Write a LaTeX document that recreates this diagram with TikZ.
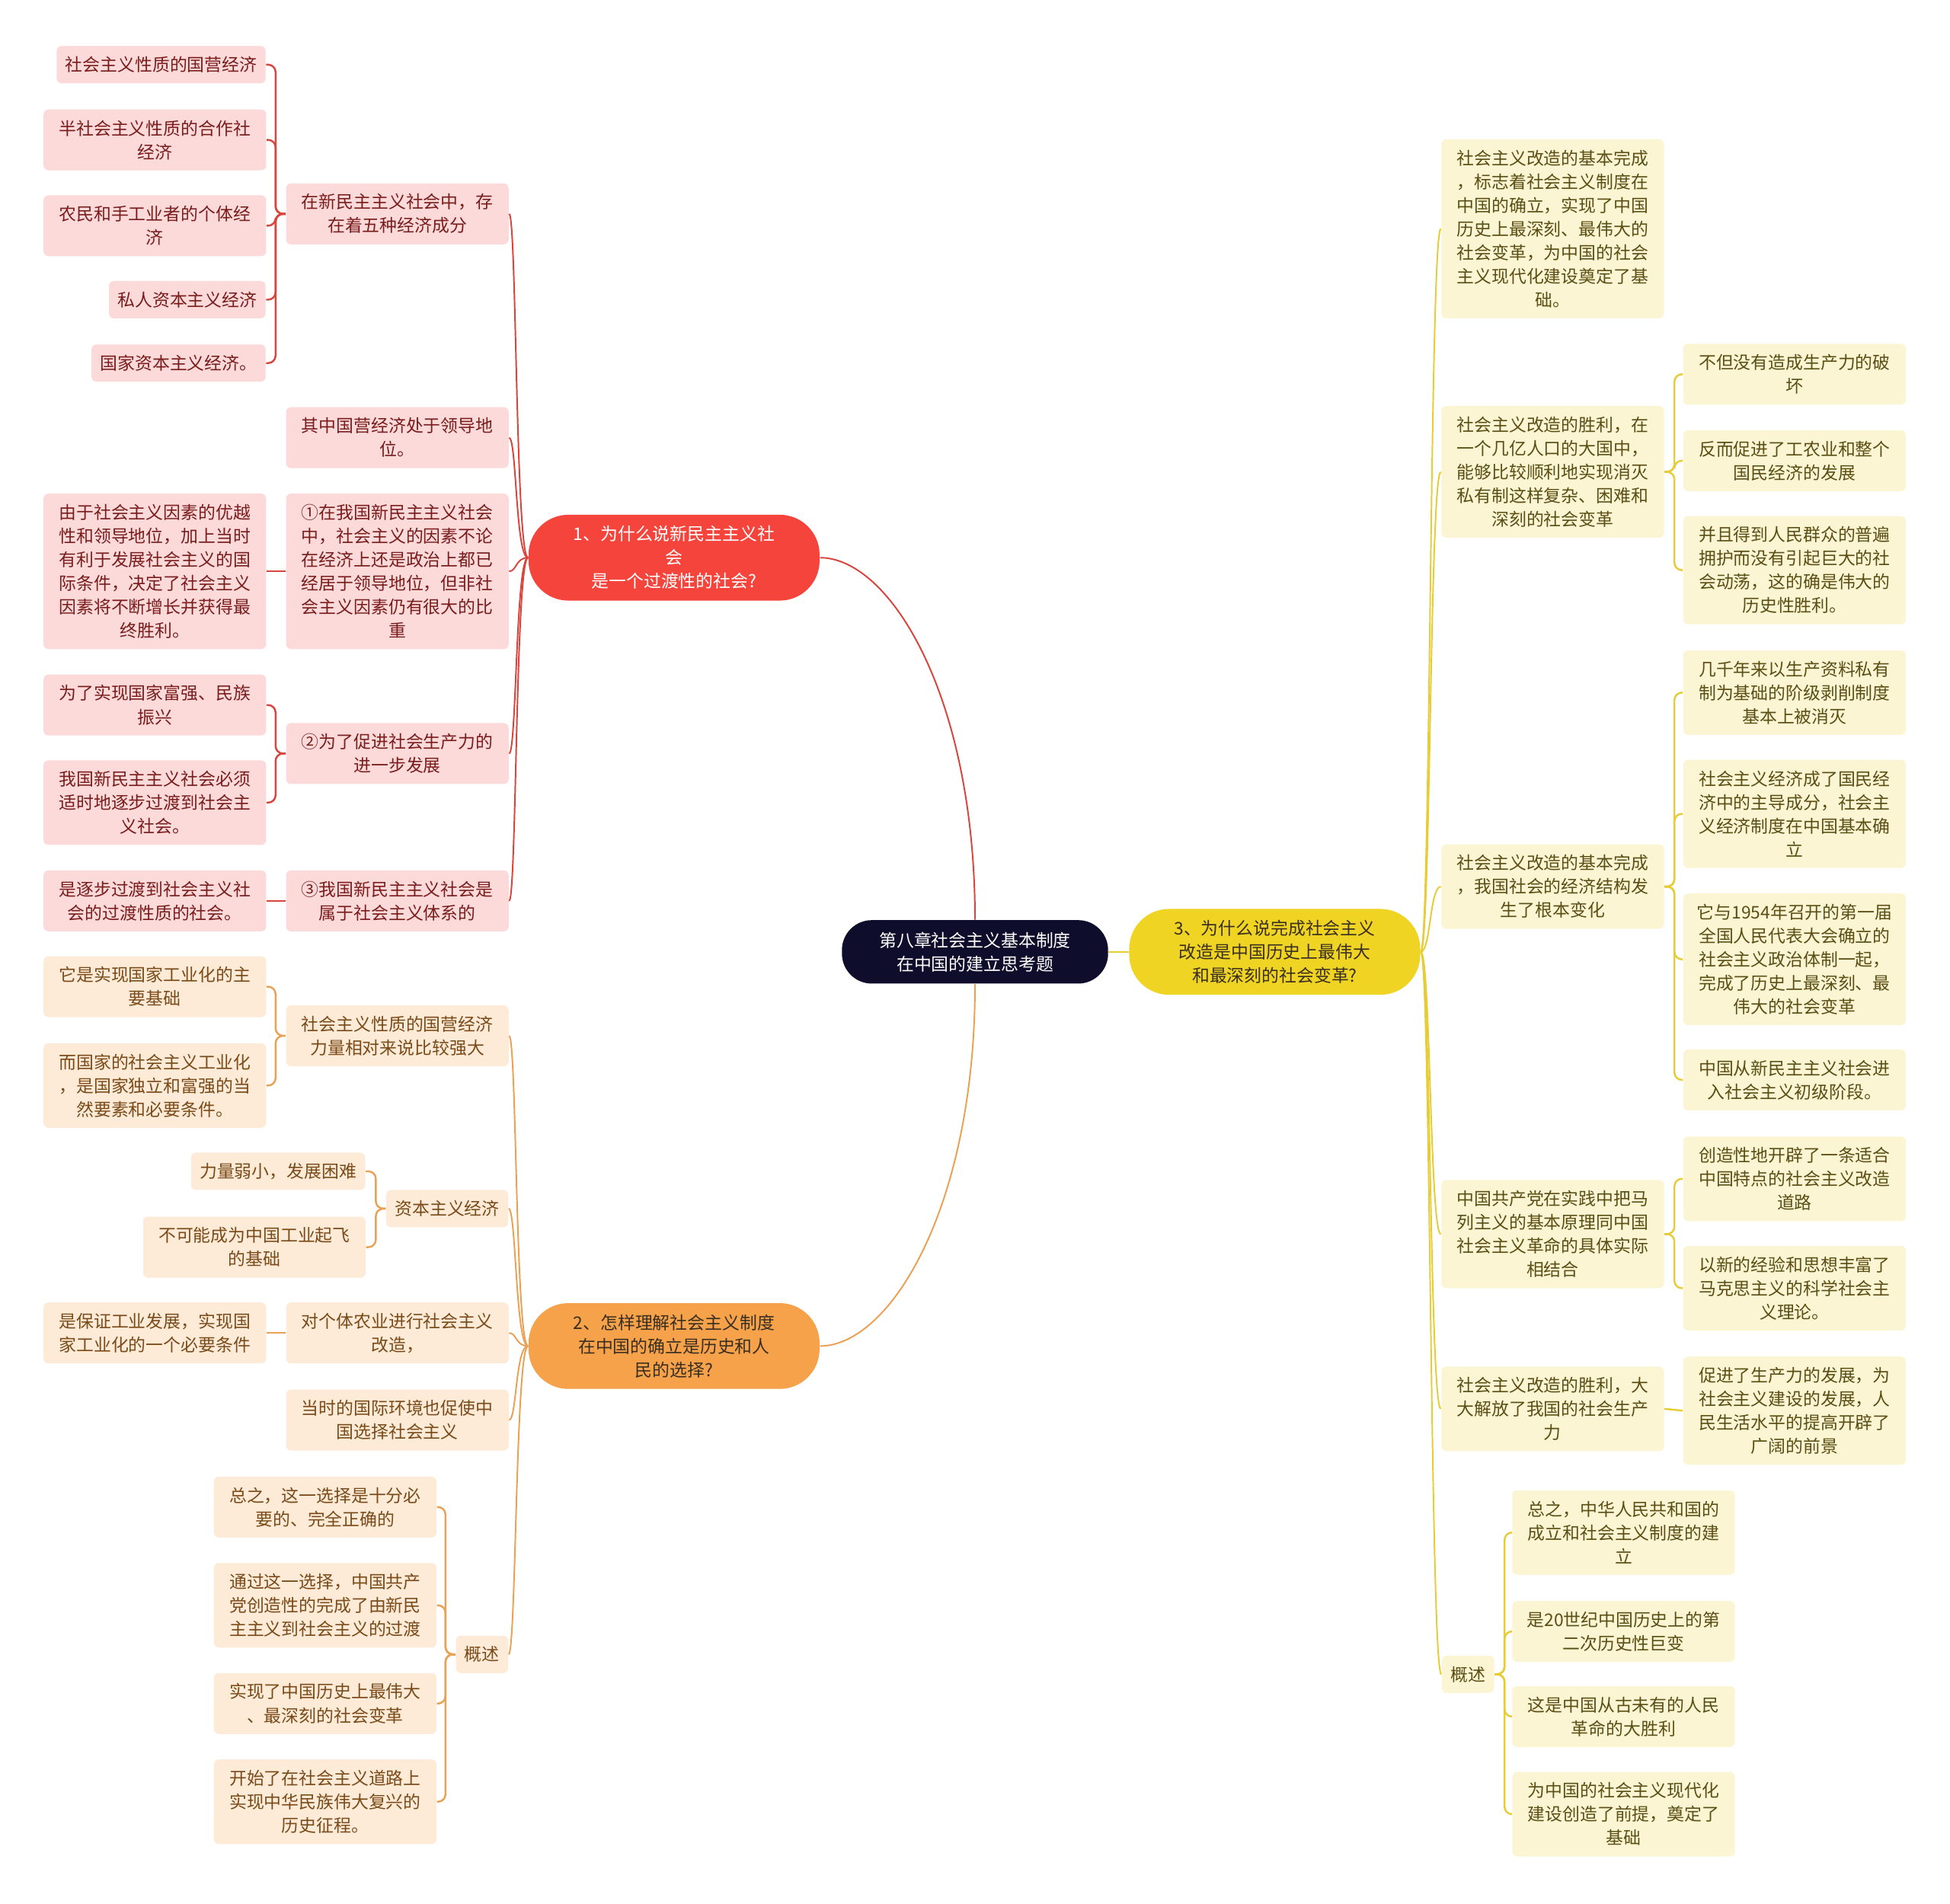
\documentclass[tikz,border=0pt]{standalone}
\usepackage{fontspec}
\newfontfamily\cjk{Noto Sans CJK SC}
\definecolor{rootc}{HTML}{0E0E2C}
\definecolor{n1c}{HTML}{F5443B}
\definecolor{n2c}{HTML}{F5A24B}
\definecolor{n3c}{HTML}{EFD424}
\definecolor{cR}{HTML}{D9443C}
\definecolor{cO}{HTML}{EBA153}
\definecolor{cY}{HTML}{E6CD35}
\definecolor{fR}{HTML}{FCDADA}
\definecolor{fO}{HTML}{FDEBD8}
\definecolor{fY}{HTML}{FCF5D3}
\definecolor{tR}{HTML}{7A1C1C}
\definecolor{tO}{HTML}{7A4A18}
\definecolor{tY}{HTML}{5A4E14}
\definecolor{tDark}{HTML}{3A2E20}
\tikzset{
  base/.style={font=\cjk\fontsize{7}{9.5}\selectfont, align=center, inner xsep=3.5pt, inner ysep=0pt, rounded corners=2pt},
  nl/.style={minimum height={9.5pt*#1+5.5pt}},
  fw/.style={minimum width=89.5pt},
  rbox/.style={base, fill=fR, text=tR},
  obox/.style={base, fill=fO, text=tO},
  ybox/.style={base, fill=fY, text=tY},
  mainnode/.style={font=\cjk\fontsize{7}{9.5}\selectfont, align=center, inner sep=0pt, minimum width=117pt, minimum height=34.5pt, rounded corners=16pt},
  curveR/.style={draw=cR, line width=0.6pt},
  curveO/.style={draw=cO, line width=0.6pt},
  curveY/.style={draw=cY, line width=0.6pt},
  brR/.style={draw=cR, line width=0.75pt, rounded corners=3pt},
  brO/.style={draw=cO, line width=0.75pt, rounded corners=3pt},
  brY/.style={draw=cY, line width=0.75pt, rounded corners=3pt},
}
\begin{document}
\begin{tikzpicture}[x=0.5pt,y=-0.5pt]
\useasboundingbox[fill=white] (0,0) rectangle (1568,1531);

% main nodes
\node[mainnode, fill=rootc, text=white, minimum width=107pt, minimum height=25.5pt, rounded corners=12pt] (root) at (784,765.5) {第八章社会主义基本制度\\在中国的建立思考题};
\node[mainnode, fill=n1c, text=white] (N1) at (542,448.5) {1、为什么说新民主主义社\\会\\是一个过渡性的社会?};
\node[mainnode, fill=n2c, text=tDark] (N2) at (542,1082.5) {2、怎样理解社会主义制度\\在中国的确立是历史和人\\民的选择?};
\node[mainnode, fill=n3c, text=tDark] (N3) at (1025,765.5) {3、为什么说完成社会主义\\改造是中国历史上最伟大\\和最深刻的社会变革?};

\draw[curveR] (root.north) .. controls +(0,-180) and +(56,0) .. (N1.east);
\draw[curveO] (root.south) .. controls +(0,180) and +(56,0) .. (N2.east);
\draw[curveY] (root.east) -- (N3.west);

% branch 1
\node[rbox,fw,nl=2] (A1) at (319.5,172) {在新民主主义社会中，存\\在着五种经济成分};
\node[rbox,nl=1,anchor=east] (L1) at (214,52) {社会主义性质的国营经济};
\node[rbox,fw,nl=2] (L2) at (124.5,112.5) {半社会主义性质的合作社\\经济};
\node[rbox,fw,nl=2] (L3) at (124.5,181.5) {农民和手工业者的个体经\\济};
\node[rbox,nl=1,anchor=east] (L4) at (214,241) {私人资本主义经济};
\node[rbox,nl=1,anchor=east] (L5) at (214,292) {国家资本主义经济。};
\node[rbox,fw,nl=2] (A2) at (319.5,352) {其中国营经济处于领导地\\位。};
\node[rbox,fw,nl=6] (A3) at (319.5,459.5) {①在我国新民主主义社会\\中，社会主义的因素不论\\在经济上还是政治上都已\\经居于领导地位，但非社\\会主义因素仍有很大的比\\重};
\node[rbox,fw,nl=6] (A3c) at (124.5,459.5) {由于社会主义因素的优越\\性和领导地位，加上当时\\有利于发展社会主义的国\\际条件，决定了社会主义\\因素将不断增长并获得最\\终胜利。};
\node[rbox,fw,nl=2] (A4) at (319.5,606) {②为了促进社会生产力的\\进一步发展};
\node[rbox,fw,nl=2] (A4a) at (124.5,567) {为了实现国家富强、民族\\振兴};
\node[rbox,fw,nl=3] (A4b) at (124.5,645.5) {我国新民主主义社会必须\\适时地逐步过渡到社会主\\义社会。};
\node[rbox,fw,nl=2] (A5) at (319.5,724.5) {③我国新民主主义社会是\\属于社会主义体系的};
\node[rbox,fw,nl=2] (A5c) at (124.5,724.5) {是逐步过渡到社会主义社\\会的过渡性质的社会。};

\foreach \n in {A1,A2,A3,A4,A5}
  \draw[curveR] (N1.west) .. controls +(-10,0) and +(6,0) .. (\n.east);
\foreach \n in {L1,L2,L3,L4,L5}
  \draw[brR] (A1.west) -- ++(-8,0) |- (\n.east);
\draw[brR] (A3.west) -- (A3c.east);
\foreach \n in {A4a,A4b}
  \draw[brR] (A4.west) -- ++(-8,0) |- (\n.east);
\draw[brR] (A5.west) -- (A5c.east);

% branch 2
\node[obox,fw,nl=2] (B1) at (319.5,833) {社会主义性质的国营经济\\力量相对来说比较强大};
\node[obox,fw,nl=2] (B1a) at (124.5,793.5) {它是实现国家工业化的主\\要基础};
\node[obox,fw,nl=3] (B1b) at (124.5,873) {而国家的社会主义工业化\\，是国家独立和富强的当\\然要素和必要条件。};
\node[obox,nl=1,anchor=east] (B2) at (409,972) {资本主义经济};
\node[obox,nl=1,anchor=east] (B2a) at (294,942) {力量弱小，发展困难};
\node[obox,fw,nl=2] (B2b) at (204.5,1003) {不可能成为中国工业起飞\\的基础};
\node[obox,fw,nl=2] (B3) at (319.5,1072) {对个体农业进行社会主义\\改造，};
\node[obox,fw,nl=2] (B3c) at (124.5,1072) {是保证工业发展，实现国\\家工业化的一个必要条件};
\node[obox,fw,nl=2] (B4) at (319.5,1142) {当时的国际环境也促使中\\国选择社会主义};
\node[obox,nl=1,anchor=east] (B5) at (409,1330.5) {概述};
\node[obox,fw,nl=2] (B5a) at (261.5,1212) {总之，这一选择是十分必\\要的、完全正确的};
\node[obox,fw,nl=3] (B5b) at (261.5,1291) {通过这一选择，中国共产\\党创造性的完成了由新民\\主主义到社会主义的过渡};
\node[obox,fw,nl=2] (B5c) at (261.5,1370) {实现了中国历史上最伟大\\、最深刻的社会变革};
\node[obox,fw,nl=3] (B5d) at (261.5,1449) {开始了在社会主义道路上\\实现中华民族伟大复兴的\\历史征程。};

\foreach \n in {B1,B2,B3,B4,B5}
  \draw[curveO] (N2.west) .. controls +(-10,0) and +(6,0) .. (\n.east);
\foreach \n in {B1a,B1b}
  \draw[brO] (B1.west) -- ++(-8,0) |- (\n.east);
\foreach \n in {B2a,B2b}
  \draw[brO] (B2.west) -- ++(-8,0) |- (\n.east);
\draw[brO] (B3.west) -- (B3c.east);
\foreach \n in {B5a,B5b,B5c,B5d}
  \draw[brO] (B5.west) -- ++(-8,0) |- (\n.east);

% branch 3
\node[ybox,fw,nl=7] (C1) at (1248.5,184) {社会主义改造的基本完成\\，标志着社会主义制度在\\中国的确立，实现了中国\\历史上最深刻、最伟大的\\社会变革，为中国的社会\\主义现代化建设奠定了基\\础。};
\node[ybox,fw,nl=5] (C2) at (1248.5,379.5) {社会主义改造的胜利，在\\一个几亿人口的大国中，\\能够比较顺利地实现消灭\\私有制这样复杂、困难和\\深刻的社会变革};
\node[ybox,fw,nl=2] (C2a) at (1443,301) {不但没有造成生产力的破\\坏};
\node[ybox,fw,nl=2] (C2b) at (1443,370.5) {反而促进了工农业和整个\\国民经济的发展};
\node[ybox,fw,nl=4] (C2c) at (1443,458.5) {并且得到人民群众的普遍\\拥护而没有引起巨大的社\\会动荡，这的确是伟大的\\历史性胜利。};
\node[ybox,fw,nl=3] (C3) at (1248.5,713) {社会主义改造的基本完成\\，我国社会的经济结构发\\生了根本变化};
\node[ybox,fw,nl=3] (C3a) at (1443,557) {几千年来以生产资料私有\\制为基础的阶级剥削制度\\基本上被消灭};
\node[ybox,fw,nl=4] (C3b) at (1443,654.5) {社会主义经济成了国民经\\济中的主导成分，社会主\\义经济制度在中国基本确\\立};
\node[ybox,fw,nl=5] (C3c) at (1443,771.5) {它与1954年召开的第一届\\全国人民代表大会确立的\\社会主义政治体制一起，\\完成了历史上最深刻、最\\伟大的社会变革};
\node[ybox,fw,nl=2] (C3d) at (1443,868.5) {中国从新民主主义社会进\\入社会主义初级阶段。};
\node[ybox,fw,nl=4] (C4) at (1248.5,992.5) {中国共产党在实践中把马\\列主义的基本原理同中国\\社会主义革命的具体实际\\相结合};
\node[ybox,fw,nl=3] (C4a) at (1443,948) {创造性地开辟了一条适合\\中国特点的社会主义改造\\道路};
\node[ybox,fw,nl=3] (C4b) at (1443,1036) {以新的经验和思想丰富了\\马克思主义的科学社会主\\义理论。};
\node[ybox,fw,nl=3] (C5) at (1248.5,1133) {社会主义改造的胜利，大\\大解放了我国的社会生产\\力};
\node[ybox,fw,nl=4] (C5c) at (1443,1134.5) {促进了生产力的发展，为\\社会主义建设的发展，人\\民生活水平的提高开辟了\\广阔的前景};
\node[ybox,nl=1,anchor=west] (C6) at (1159,1346.5) {概述};
\node[ybox,fw,nl=3] (C6a) at (1305.5,1232.5) {总之，中华人民共和国的\\成立和社会主义制度的建\\立};
\node[ybox,fw,nl=2] (C6b) at (1305.5,1312) {是20世纪中国历史上的第\\二次历史性巨变};
\node[ybox,fw,nl=2] (C6c) at (1305.5,1380.5) {这是中国从古未有的人民\\革命的大胜利};
\node[ybox,fw,nl=3] (C6d) at (1305.5,1459) {为中国的社会主义现代化\\建设创造了前提，奠定了\\基础};

\foreach \n in {C1,C2,C3,C4,C5,C6}
  \draw[curveY] (N3.east) .. controls +(8,0) and +(-9,0) .. (\n.west);
\foreach \n in {C2a,C2b,C2c}
  \draw[brY] (C2.east) -- ++(8,0) |- (\n.west);
\foreach \n in {C3a,C3b,C3c,C3d}
  \draw[brY] (C3.east) -- ++(8,0) |- (\n.west);
\foreach \n in {C4a,C4b}
  \draw[brY] (C4.east) -- ++(8,0) |- (\n.west);
\draw[brY] (C5.east) -- (C5c.west);
\foreach \n in {C6a,C6b,C6c,C6d}
  \draw[brY] (C6.east) -- ++(8,0) |- (\n.west);
\end{tikzpicture}
\end{document}
